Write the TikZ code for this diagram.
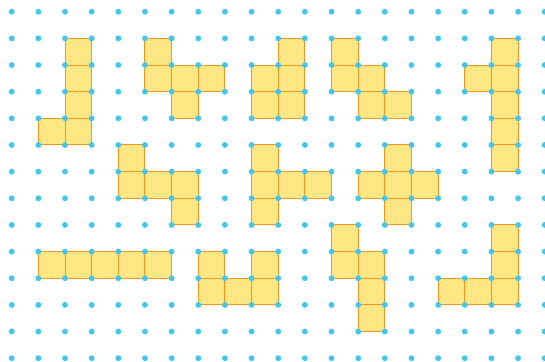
\documentclass[tikz,border=0pt]{standalone}
\definecolor{cellfill}{HTML}{FFE883}
\definecolor{celledge}{HTML}{F7941D}
\definecolor{dotblue}{HTML}{40C6F0}
\begin{document}
\begin{tikzpicture}[x=1cm,y=-1cm,
  cell/.style={fill=cellfill,draw=celledge,line width=1.1pt},
  gdot/.style={fill=dotblue}]
\useasboundingbox (-0.44,-0.44) rectangle (20.01,13.14);
\foreach \c/\r in {
  2/1,2/2,2/3,2/4,1/4,
  5/1,5/2,6/2,7/2,6/3,
  10/1,9/2,10/2,9/3,10/3,
  12/1,12/2,13/2,13/3,14/3,
  18/1,18/2,18/3,18/4,18/5,17/2,
  4/5,4/6,5/6,6/6,6/7,
  9/5,9/6,10/6,11/6,9/7,
  14/5,13/6,14/6,15/6,14/7,
  1/9,2/9,3/9,4/9,5/9,
  7/9,9/9,7/10,8/10,9/10,
  12/8,12/9,13/9,13/10,13/11,
  18/8,18/9,16/10,17/10,18/10}
  \draw[cell] (\c,\r) rectangle ++(1,1);
\foreach \i in {0,...,20}
  \foreach \j in {0,...,13}
    \fill[gdot] (\i,\j) circle (0.11);
\end{tikzpicture}
\end{document}
